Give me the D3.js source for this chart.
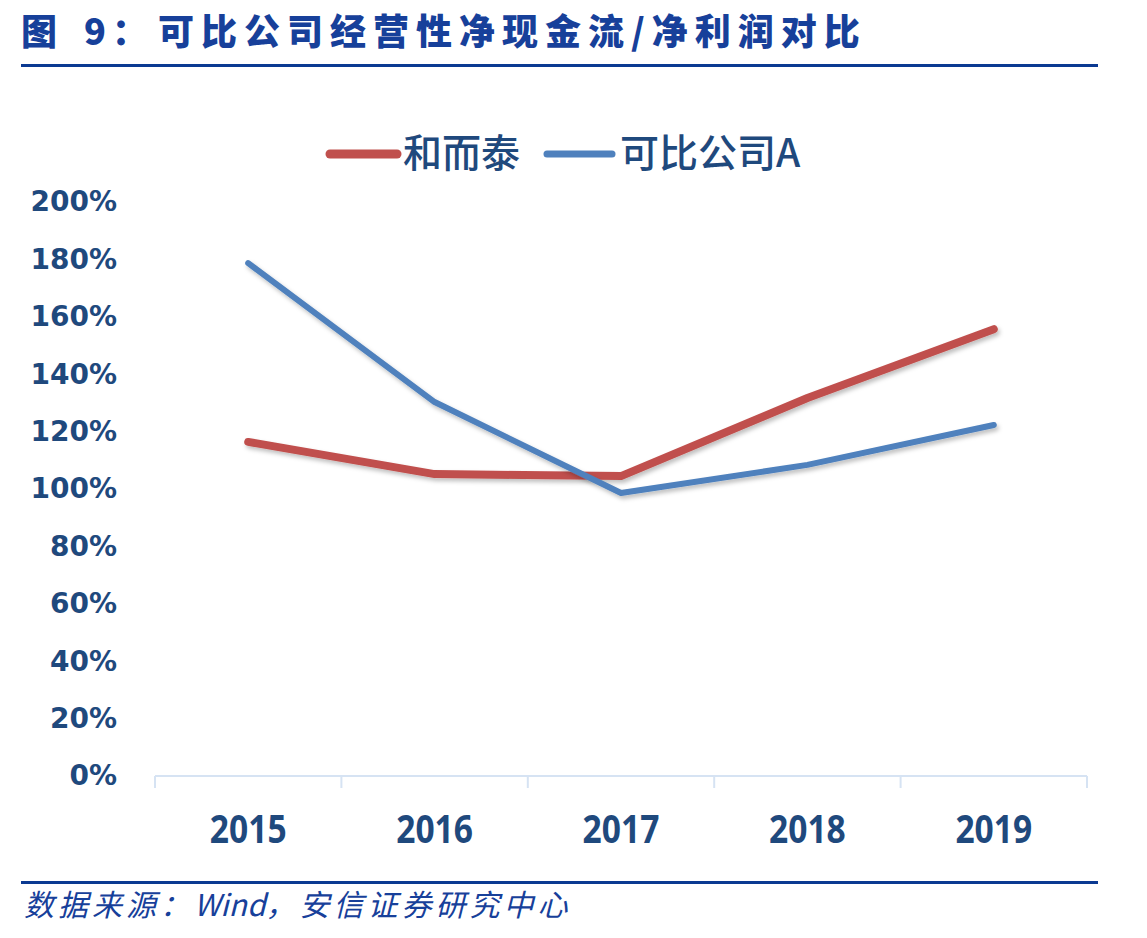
<!DOCTYPE html>
<html>
<head>
<meta charset="utf-8">
<script src="https://cdn.jsdelivr.net/npm/d3@7"></script>
<style>
  body { margin: 0; background: #fff; }
  svg { display: block; }
</style>
</head>
<body>
<div id="chart"></div>
<script>
const years = ["2015", "2016", "2017", "2018", "2019"];
const heErTai = [116.4, 105.2, 104.5, 131.7, 155.7];
const compA = [178.7, 130.3, 98.6, 108.4, 122.3];
const yTicks = [0, 20, 40, 60, 80, 100, 120, 140, 160, 180, 200];

const series = [
    { name: "和而泰", values: heErTai, color: "#c0504d", width: 8 },
    { name: "可比公司A", values: compA, color: "#4f81bd", width: 6 }
];

const cjk = "'Noto Sans CJK SC', 'Noto Sans', sans-serif";
const latin = "'Open Sans', 'Noto Sans', sans-serif";
const textColor = "#1f497d";
const headColor = "#17409a";

const svg = d3.select("#chart").append("svg")
    .attr("width", 1147)
    .attr("height", 938);

// title + rules
const title = svg.append("text")
    .attr("y", 45)
    .style("font-family", cjk)
    .style("font-weight", "900")
    .style("font-size", "36px")
    .attr("fill", headColor);
title.append("tspan").attr("x", 21).text("图");
title.append("tspan").attr("x", 84).text("9");
title.append("tspan").attr("x", 112).text("：");
title.append("tspan").attr("x", 158).attr("letter-spacing", "7")
    .text("可比公司经营性净现金流/净利润对比");

svg.append("line")
    .attr("x1", 21).attr("x2", 1098)
    .attr("y1", 65.5).attr("y2", 65.5)
    .attr("stroke", "#0b3a92")
    .attr("stroke-width", 3);

svg.append("line")
    .attr("x1", 21).attr("x2", 1098)
    .attr("y1", 882.5).attr("y2", 882.5)
    .attr("stroke", "#0b3a92")
    .attr("stroke-width", 3);

const src = svg.append("text")
    .attr("x", 24)
    .attr("y", 916)
    .style("font-family", cjk)
    .style("font-style", "italic")
    .style("font-size", "30px")
    .attr("fill", headColor);
src.append("tspan").attr("letter-spacing", "4").text("数据来源：");
src.append("tspan").attr("letter-spacing", "0").text("Wind");
src.append("tspan").attr("letter-spacing", "4").text("，安信证券研究中心");

// scales
const x = d3.scaleBand()
    .domain(years)
    .range([155, 1087]);

const y = d3.scaleLinear()
    .domain([0, 200])
    .range([776, 202]);

// y labels (no axis line)
const yAxis = svg.append("g")
    .attr("transform", "translate(117,0)")
    .call(d3.axisLeft(y).tickValues(yTicks).tickSize(0).tickPadding(0).tickFormat(d => d + "%"));
yAxis.select(".domain").remove();
yAxis.selectAll("text")
    .style("font-family", "'DejaVu Sans', sans-serif")
    .style("font-weight", "700")
    .style("font-size", "28px")
    .attr("fill", textColor);

// x axis
const xAxis = svg.append("g")
    .attr("transform", "translate(0,776)");
xAxis.append("line")
    .attr("x1", x.range()[0]).attr("x2", x.range()[1])
    .attr("stroke", "#d6e3f3")
    .attr("stroke-width", 2);
xAxis.selectAll(".tk")
    .data(years.map(d => x(d)).concat([x.range()[1]]))
    .enter().append("line")
    .attr("x1", d => d).attr("x2", d => d)
    .attr("y1", 0).attr("y2", 12)
    .attr("stroke", "#d6e3f3")
    .attr("stroke-width", 2);
xAxis.selectAll(".lbl")
    .data(years)
    .enter().append("text")
    .attr("transform", d => `translate(${x(d) + x.bandwidth() / 2},67) scale(0.84,1)`)
    .attr("text-anchor", "middle")
    .style("font-family", latin)
    .style("font-weight", "700")
    .style("font-size", "40px")
    .attr("fill", textColor)
    .text(d => d);

// shadow
const defs = svg.append("defs");
const f = defs.append("filter").attr("id", "shadow")
    .attr("x", "-10%").attr("y", "-10%").attr("width", "120%").attr("height", "130%");
f.append("feDropShadow")
    .attr("dx", 2).attr("dy", 3)
    .attr("stdDeviation", 2)
    .attr("flood-color", "#000")
    .attr("flood-opacity", 0.25);

const line = d3.line()
    .x((d, i) => x(years[i]) + x.bandwidth() / 2)
    .y(d => y(d));

series.forEach(s => {
    svg.append("path")
        .datum(s.values)
        .attr("fill", "none")
        .attr("stroke", s.color)
        .attr("stroke-width", s.width)
        .attr("stroke-linecap", "round")
        .attr("stroke-linejoin", "round")
        .attr("filter", "url(#shadow)")
        .attr("d", line);
});

// legend
const legend = svg.append("g");
const legendItems = [
    { s: series[0], x1: 330, x2: 397, tx: 403, w: 9 },
    { s: series[1], x1: 547, x2: 612, tx: 620, w: 7 }
];
legendItems.forEach(it => {
    legend.append("line")
        .attr("x1", it.x1).attr("x2", it.x2)
        .attr("y1", 154).attr("y2", 154)
        .attr("stroke", it.s.color)
        .attr("stroke-width", it.w)
        .attr("stroke-linecap", "round");
    legend.append("text")
        .attr("x", it.tx)
        .attr("y", 167)
        .style("font-family", cjk)
        .style("font-weight", "500")
        .style("font-size", "39px")
        .attr("fill", textColor)
        .text(it.s.name);
});
</script>
</body>
</html>
